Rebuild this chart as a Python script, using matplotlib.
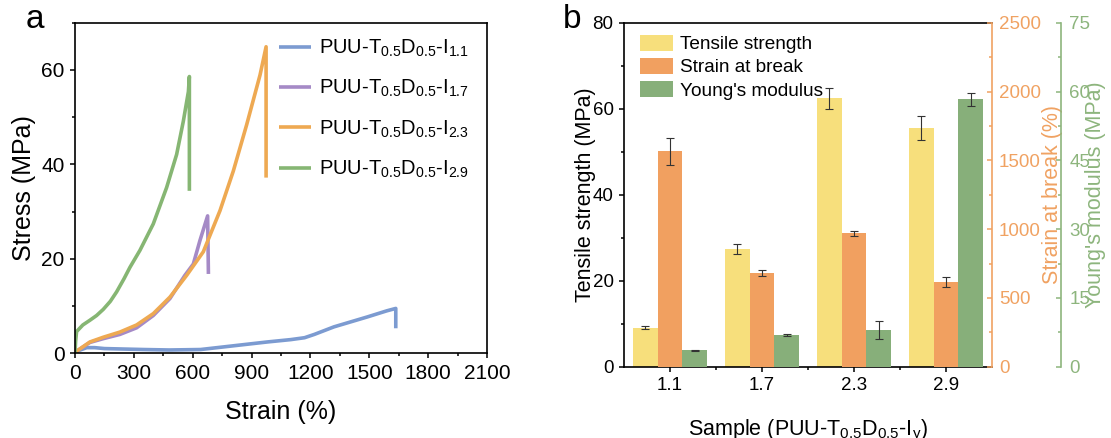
import numpy as np
from matplotlib import pyplot as plt
from matplotlib.ticker import MultipleLocator

plt.rcParams['font.family'] = ['Liberation Sans', 'DejaVu Sans']
plt.rcParams['mathtext.default'] = 'regular'

# ---- panel a : stress-strain curves ----
strain_11 = [0, 20, 60, 100, 150, 250, 350, 480, 640, 810, 980, 1100, 1170, 1220, 1320, 1490, 1590, 1635, 1635]
stress_11 = [0, 0.6, 1.2, 1.2, 1.0, 0.9, 0.8, 0.7, 0.8, 1.6, 2.4, 2.9, 3.3, 4.0, 5.6, 7.7, 9.0, 9.5, 5.3]

strain_17 = [0, 10, 76, 144, 229, 314, 399, 484, 560, 603, 637, 676, 680]
stress_17 = [0, 0.5, 2.3, 3.1, 4.0, 5.4, 8.0, 11.6, 16.5, 18.9, 23.9, 29.1, 16.8]

strain_23 = [0, 10, 76, 144, 229, 314, 399, 484, 569, 654, 739, 807, 875, 943, 974, 974]
stress_23 = [0, 0.5, 2.4, 3.4, 4.5, 6.0, 8.4, 11.9, 16.5, 21.5, 30.2, 38.6, 48.4, 58.9, 64.9, 37.2]

strain_29 = [0, 3, 8, 40, 76, 110, 144, 180, 212, 250, 280, 331, 399, 467, 518, 552, 578, 583, 583]
stress_29 = [0, 2.5, 4.6, 6.0, 7.0, 8.0, 9.3, 11.0, 13.0, 15.8, 18.2, 21.8, 27.4, 35.1, 42.1, 49.1, 55.4, 58.6, 34.4]

curve_labels = ['1.1', '1.7', '2.3', '2.9']
curve_colors = ['#7C9BD1', '#A58AC6', '#EEA952', '#86B673']

# ---- panel b : bars ----
samples = ['1.1', '1.7', '2.3', '2.9']
tensile = [9.1, 27.3, 62.4, 55.6]
tensile_err = [0.4, 1.2, 2.5, 2.8]
strain_break = [1565, 680, 969, 615]
strain_break_err = [100, 20, 20, 35]
modulus = [3.6, 6.9, 8.0, 58.3]
modulus_err = [0.1, 0.2, 2.0, 1.4]

c_yel = '#F7DF7C'
c_ora = '#F1A060'
c_gre = '#87AF7A'
c_ora_ax = '#F0A262'
c_gre_ax = '#8DB57D'

W, H = 1111, 438
fig = plt.figure(figsize=(W / 100, H / 100), dpi=100)

# panel a
ax = fig.add_axes([75 / W, (H - 353.3) / H, 412 / W, 330.6 / H])
data_a = [(strain_11, stress_11), (strain_17, stress_17), (strain_23, stress_23), (strain_29, stress_29)]
for (sx, sy), lab, col in zip(data_a, curve_labels, curve_colors):
    ax.plot(sx, sy, color=col, lw=2.6, solid_capstyle='butt', solid_joinstyle='round',
            label=r'PUU-T$_{0.5}$D$_{0.5}$-I$_{%s}$' % lab)
ax.set_xlim(0, 2100)
ax.set_ylim(0, 70)
ax.xaxis.set_major_locator(MultipleLocator(300))
ax.xaxis.set_minor_locator(MultipleLocator(150))
ax.set_yticks([0, 20, 40, 60])
ax.yaxis.set_minor_locator(MultipleLocator(10))
ax.tick_params(which='major', length=3.5, width=1.1, labelsize=15, pad=4)
ax.tick_params(which='minor', length=2, width=1.1)
for s in ax.spines.values():
    s.set_linewidth(1.2)
ax.set_xlabel('Strain (%)', fontsize=18)
ax.set_ylabel('Stress (MPa)', fontsize=18)
ax.xaxis.set_label_coords(0.5, -0.14)
ax.yaxis.set_label_coords(-0.095, 0.5)
ax.legend(loc='upper left', bbox_to_anchor=(0.495, 0.955), frameon=False, fontsize=14.5,
          handlelength=1.6, handletextpad=0.4, labelspacing=0.95, borderpad=0, borderaxespad=0)
fig.text(26 / W, 1 - 4 / H, 'a', fontsize=24, va='top', ha='left')

# panel b
ax1 = fig.add_axes([624 / W, (H - 366.7) / H, 368 / W, 344 / H])
ax2 = ax1.twinx()
ax3 = ax1.twinx()
x = np.arange(len(samples))
w = 0.27
ekw = dict(ecolor='#333333', elinewidth=0.8, capsize=3, capthick=0.8)
b1 = ax1.bar(x - w, tensile, w, yerr=tensile_err, color=c_yel, label='Tensile strength', error_kw=ekw)
b2 = ax2.bar(x, strain_break, w, yerr=strain_break_err, color=c_ora, label='Strain at break', error_kw=ekw)
b3 = ax3.bar(x + w, modulus, w, yerr=modulus_err, color=c_gre, label="Young's modulus", error_kw=ekw)

ax1.set_xlim(-0.5, 3.5)
ax1.set_ylim(0, 80)
ax2.set_ylim(0, 2500)
ax3.set_ylim(0, 75)
ax1.set_xticks(x)
ax1.set_xticklabels(samples)
ax1.set_xticks(x[:-1] + 0.5, minor=True)
ax1.yaxis.set_major_locator(MultipleLocator(20))
ax1.yaxis.set_minor_locator(MultipleLocator(10))
ax2.yaxis.set_major_locator(MultipleLocator(500))
ax2.yaxis.set_minor_locator(MultipleLocator(250))
ax3.yaxis.set_major_locator(MultipleLocator(15))
ax3.yaxis.set_minor_locator(MultipleLocator(7.5))

ax1.tick_params(which='major', length=3.5, width=1.1, labelsize=13.5, pad=4)
ax1.tick_params(which='minor', length=2, width=1.1)
ax1.spines['right'].set_visible(False)
for s in ['left', 'top', 'bottom']:
    ax1.spines[s].set_linewidth(1.2)

for a, col, pos, pad in [(ax2, c_ora_ax, 1.0, 5), (ax3, c_gre_ax, 1.1875, 6)]:
    for s in ['left', 'top', 'bottom']:
        a.spines[s].set_visible(False)
    a.spines['right'].set_position(('axes', pos))
    a.spines['right'].set_color(col)
    a.spines['right'].set_linewidth(1.2)
    a.tick_params(axis='y', which='both', direction='in', colors=col, width=1.1)
    a.tick_params(axis='y', which='major', length=3.5, labelsize=13.5, pad=pad)
    a.tick_params(axis='y', which='minor', length=2)

ax1.set_xlabel(r'Sample (PUU-T$_{0.5}$D$_{0.5}$-I$_{y}$)', fontsize=15.5)
ax1.set_ylabel('Tensile strength (MPa)', fontsize=15.5)
ax2.set_ylabel('Strain at break (%)', fontsize=15.5, color=c_ora_ax, rotation=90)
ax3.set_ylabel("Young's modulus (MPa)", fontsize=15.5, color=c_gre_ax, rotation=90)
ax1.xaxis.set_label_coords(0.5, -0.148)
ax1.yaxis.set_label_coords(-0.075, 0.5)
ax2.yaxis.set_label_coords(1.136, 0.5)
ax3.yaxis.set_label_coords(1.253, 0.5)

ax3.legend([b1, b2, b3], ['Tensile strength', 'Strain at break', "Young's modulus"],
           loc='upper left', bbox_to_anchor=(0.043, 0.965), frameon=False, fontsize=13.7,
           handlelength=1.75, handleheight=0.9, handletextpad=0.35, labelspacing=0.25,
           borderpad=0, borderaxespad=0)
fig.text(563 / W, 1 - 4 / H, 'b', fontsize=24, va='top', ha='left')

fig.savefig('out.png', dpi=100)
